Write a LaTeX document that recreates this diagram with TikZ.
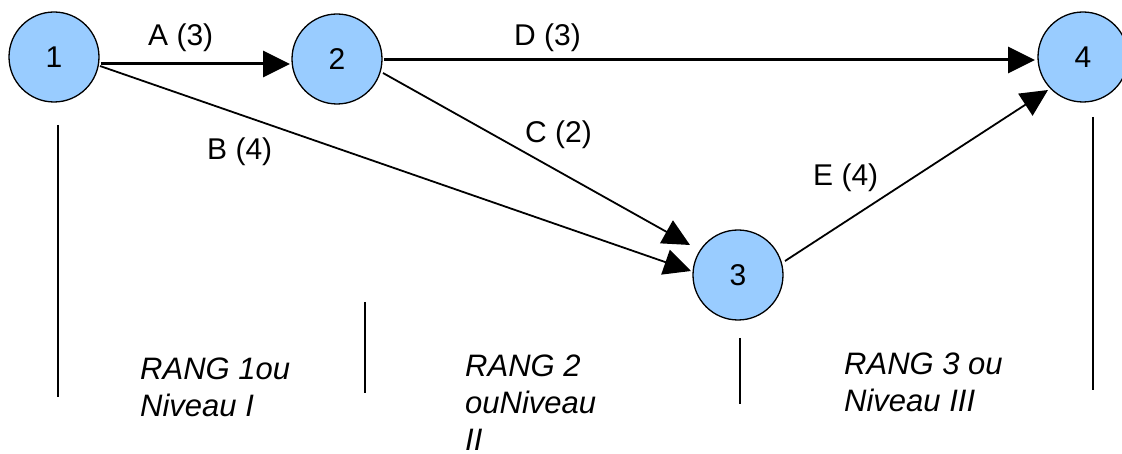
\documentclass[tikz,border=0pt]{standalone}
\usepackage{fontspec}
\setmainfont{Liberation Sans}
\usetikzlibrary{arrows.meta,calc}
\definecolor{nodeblue}{RGB}{153,204,255}
\begin{document}
\begin{tikzpicture}[x=1pt,y=-1pt,
  event/.style={circle,draw=black,line width=1.3pt,fill=nodeblue,minimum size=90pt,inner sep=0pt,font=\fontsize{30}{36}\selectfont},
  heavy/.style={line width=3pt,-{Triangle[length=27pt,width=26pt]}},
  light/.style={line width=1.8pt,-{Triangle[length=27pt,width=26pt]}},
  lbl/.style={anchor=base west,inner sep=0pt,font=\fontsize{30}{36}\selectfont},
  rang/.style={anchor=north west,inner sep=0pt,align=left,font=\fontsize{31}{37}\selectfont\itshape},
  sep/.style={line width=1.5pt}]
\useasboundingbox (0,0) rectangle (1122,454);
% events
\node[event] (n1) at (54,57) {1};
\node[event] (n2) at (337,59) {2};
\node[event] (n3) at (738,275) {3};
\node[event] (n4) at (1083,57) {4};
% activities
\draw[heavy] ($(n1.center)+(47,7)$) -- ($(n2.center)+(-47,5)$);
\draw[heavy] ($(n2.center)+(47,1)$) -- ($(n4.center)+(-48,3)$);
\draw[light] ($(n1.center)+(46,9)$) -- ($(n3.center)+(-47,-4)$);
\draw[light] ($(n2.center)+(46,14)$) -- ($(n3.center)+(-48,-30)$);
\draw[light] ($(n3.center)+(47,-14)$) -- ($(n4.center)+(-35,33)$);
% labels
\node[lbl] (la) at (148,46) {A (3)};
\node[lbl] (lb) at (207,160) {B (4)};
\node[lbl] (lc) at (525,143) {C (2)};
\node[lbl] (ld) at (514,46) {D (3)};
\node[lbl] (le) at (813,186) {E (4)};
% rank separators
\draw[sep] (58,125) -- (58,397);
\draw[sep] (365,302) -- (365,393);
\draw[sep] (740,338) -- (740,404);
\draw[sep] (1093,117) -- (1093,390);
% rank texts
\node[rang] (r1) at (140,358) {RANG 1ou\\Niveau I};
\node[rang] (r2) at (465,355) {RANG 2\\ouNiveau\\II};
\node[rang] (r3) at (844,353) {RANG 3 ou\\Niveau III};
\end{tikzpicture}
\end{document}
